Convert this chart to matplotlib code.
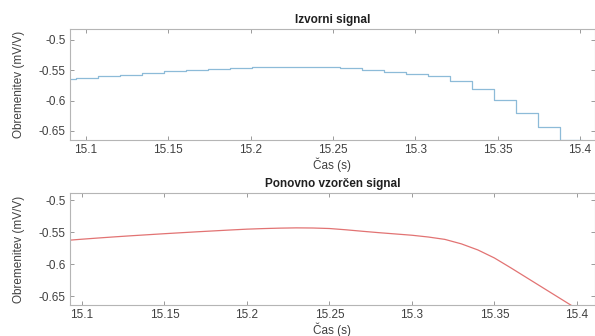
import matplotlib.pyplot as plt
import numpy as np

plt.rcParams['font.family'] = ['Liberation Sans', 'DejaVu Sans']

# izvorni signal (stopnice)
t_src = [15.0808, 15.0941, 15.1075, 15.1208, 15.1342, 15.1475, 15.1609, 15.1742,
         15.1876, 15.2009, 15.2143, 15.2276, 15.2410, 15.2543, 15.2677, 15.2810,
         15.2944, 15.3077, 15.3211, 15.3344, 15.3478, 15.3611, 15.3745, 15.3878,
         15.4012, 15.4145]
y_src = [-0.5650, -0.5622, -0.5594, -0.5573, -0.5540, -0.5512, -0.5498, -0.5483,
         -0.5462, -0.5450, -0.5440, -0.5440, -0.5440, -0.5467, -0.5500, -0.5528,
         -0.5556, -0.5600, -0.5677, -0.5814, -0.5990, -0.6210, -0.6430, -0.6650,
         -0.6900, -0.7100]

# ponovno vzorčen signal
t_res = [15.09, 15.10, 15.11, 15.12, 15.13, 15.14, 15.15, 15.16, 15.17, 15.18,
         15.19, 15.20, 15.21, 15.22, 15.23, 15.24, 15.25, 15.26, 15.27, 15.28,
         15.29, 15.30, 15.31, 15.32, 15.33, 15.34, 15.35, 15.36, 15.37, 15.38,
         15.39, 15.40, 15.41, 15.42]
y_res = [-0.5632, -0.5612, -0.5593, -0.5575, -0.5558, -0.5542, -0.5526, -0.5511,
         -0.5496, -0.5482, -0.5468, -0.5455, -0.5446, -0.5439, -0.5435, -0.5437,
         -0.5445, -0.5465, -0.5488, -0.5510, -0.5530, -0.5550, -0.5578, -0.5615,
         -0.5685, -0.5780, -0.5905, -0.6060, -0.6220, -0.6380, -0.6540, -0.6700,
         -0.6860, -0.7020]

xticks = [15.1, 15.15, 15.2, 15.25, 15.3, 15.35, 15.4]
xtick_labels = ['15.1', '15.15', '15.2', '15.25', '15.3', '15.35', '15.4']
yticks = [-0.65, -0.6, -0.55, -0.5]
ytick_labels = ['-0.65', '-0.6', '-0.55', '-0.5']

fig = plt.figure(figsize=(5.95, 3.36), dpi=100)
ax1 = fig.add_axes([0.1176, 0.5833, 0.8824, 0.3304])
ax2 = fig.add_axes([0.1176, 0.0923, 0.8824, 0.3333])

ax1.step(t_src, y_src, where='post', color='#8dbbd8', lw=0.9)
ax2.plot(t_res, y_res, color='#e27373', lw=0.9)

txt = '#404040'
for ax, title, xl, yl in [(ax1, 'Izvorni signal', (15.0903, 15.4091), (-0.665, -0.482)),
                          (ax2, 'Ponovno vzorčen signal', (15.0927, 15.411), (-0.664, -0.489))]:
    ax.set_xlim(*xl)
    ax.set_ylim(*yl)
    ax.set_xticks(xticks)
    ax.set_xticklabels(xtick_labels)
    ax.set_yticks(yticks)
    ax.set_yticklabels(ytick_labels)
    ax.tick_params(direction='in', top=True, right=True, length=3, width=0.6,
                   colors='#8a8a8a', labelcolor=txt, labelsize=8.5, pad=3)
    for s in ax.spines.values():
        s.set_color('#b5b5b5')
        s.set_linewidth(0.8)
    ax.set_title(title, fontsize=8.5, fontweight='bold', color='#202020', pad=4)
    ax.set_xlabel('Čas (s)', fontsize=8.5, color=txt, labelpad=1)
    ax.set_ylabel('Obremenitev (mV/V)', fontsize=8.5, color=txt, labelpad=10)

fig.savefig('out.png', dpi=100)
